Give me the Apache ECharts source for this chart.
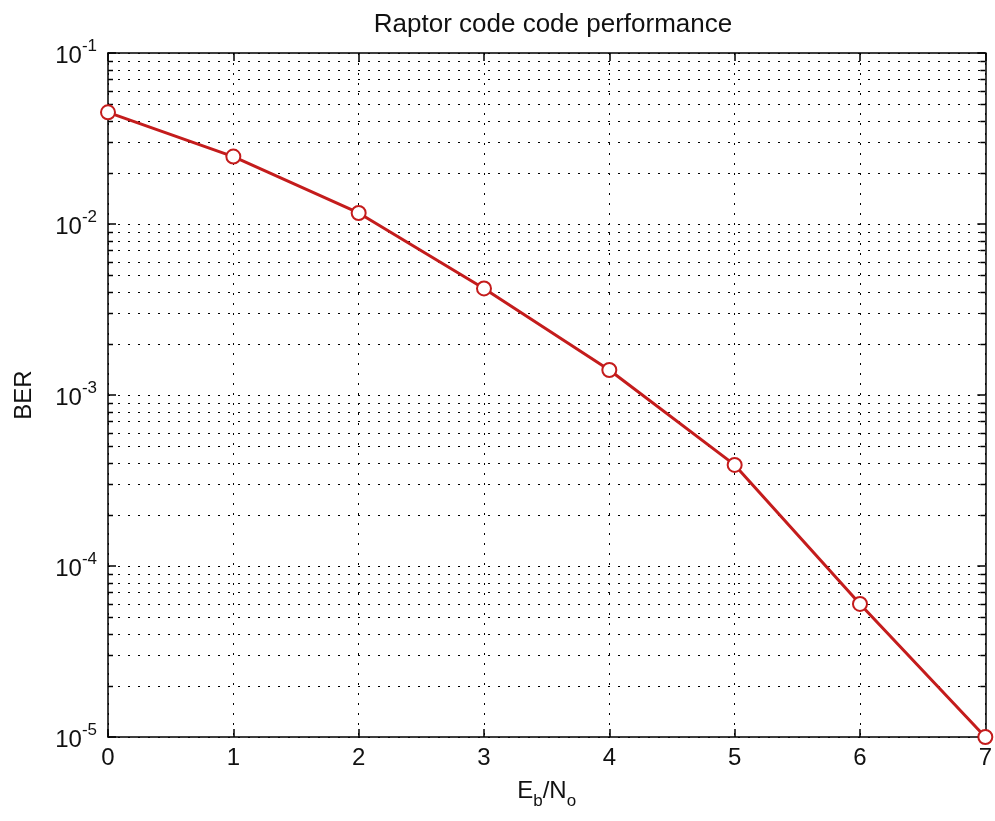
<!DOCTYPE html>
<html><head><meta charset="utf-8">
<script src="https://cdn.jsdelivr.net/npm/echarts@6/dist/echarts.min.js"></script>
<style>html,body{margin:0;padding:0;background:#fff}#c{width:995px;height:821px}</style>
</head><body><div id="c"></div>
<script>
const ebno = [0, 1, 2, 3, 4, 5, 6, 7];
const ber = [0.045, 0.0248, 0.0116, 0.0042, 0.0014, 0.00039, 0.00006, 0.00001];
const yDecades = [1e-5, 1e-4, 1e-3, 1e-2, 1e-1];
const minorMult = [2, 3, 4, 5, 6, 7, 8, 9];
const titleText = 'Raptor code code performance';

const minorVals = [];
for (let i = 0; i < yDecades.length - 1; i++) {
  for (const m of minorMult) minorVals.push([0, m * yDecades[i]]);
}
const FONT = 'Liberation Sans, Arial, sans-serif';
const FS = 24;
const DOT = [2, 8];

const chart = echarts.init(document.getElementById('c'), null, {renderer: 'canvas'});
chart.setOption({
  animation: false,
  backgroundColor: '#fff',
  title: {
    text: titleText, left: 548, textAlign: 'center', top: 7,
    textStyle: {fontFamily: FONT, fontSize: 26, fontWeight: 'normal', color: '#111'}
  },
  grid: {left: 108, right: 7, top: 53, bottom: 84, containLabel: false},
  xAxis: [{
    type: 'value', min: 0, max: 7, interval: 1,
    name: '{a|E}{s|b}{a|/N}{s|o}', nameLocation: 'middle', nameGap: 42,
    nameTextStyle: {
      rich: {
        a: {fontFamily: FONT, fontSize: FS, color: '#111', verticalAlign: 'bottom', padding: [0, 0, 7, 0]},
        s: {fontFamily: FONT, fontSize: 17, color: '#111', verticalAlign: 'bottom'}
      }
    },
    axisLine: {show: true, onZero: false, lineStyle: {color: '#000', width: 1.5}},
    axisTick: {show: true, inside: true, length: 8, lineStyle: {color: '#000', width: 1.5}},
    axisLabel: {fontFamily: FONT, fontSize: FS, color: '#111', margin: 9},
    splitLine: {show: true, lineStyle: {color: '#000', width: 1, type: DOT}}
  }, {
    type: 'value', min: 0, max: 7, interval: 1, position: 'top',
    axisLine: {show: true, onZero: false, lineStyle: {color: '#000', width: 1.5}},
    axisTick: {show: true, inside: true, length: 8, lineStyle: {color: '#000', width: 1.5}},
    axisLabel: {show: false}, splitLine: {show: false}
  }],
  yAxis: [{
    type: 'log', logBase: 10, min: 1e-5, max: 1e-1,
    name: 'BER', nameLocation: 'middle', nameGap: 72, nameRotate: 90,
    nameTextStyle: {fontFamily: FONT, fontSize: FS, color: '#111'},
    axisLine: {show: true, onZero: false, lineStyle: {color: '#000', width: 1.5}},
    axisTick: {show: true, inside: true, length: 8, lineStyle: {color: '#000', width: 1.5}},
    axisLabel: {
      margin: 11,
      formatter: v => '{a|10}{b|' + Math.round(Math.log10(v)) + '}',
      rich: {
        a: {fontFamily: FONT, fontSize: FS, color: '#111', verticalAlign: 'bottom'},
        b: {fontFamily: FONT, fontSize: 17, color: '#111', verticalAlign: 'bottom', padding: [0, 0, 14, 0]}
      }
    },
    splitLine: {show: true, lineStyle: {color: '#000', width: 1, type: DOT}}
  }, {
    type: 'log', logBase: 10, min: 1e-5, max: 1e-1, position: 'right',
    axisLine: {show: true, onZero: false, lineStyle: {color: '#000', width: 1.5}},
    axisTick: {show: true, inside: true, length: 8, lineStyle: {color: '#000', width: 1.5}},
    axisLabel: {show: false}, splitLine: {show: false}
  }],
  series: [{
    type: 'custom', silent: true, z: 1,
    xAxisIndex: 0, yAxisIndex: 0,
    data: minorVals,
    renderItem: function (params, api) {
      const cs = params.coordSys;
      const y = Math.round(api.coord([0, api.value(1)])[1]) + 0.5;
      return {type: 'group', children: [
        {type: 'line', shape: {x1: cs.x, y1: y, x2: cs.x + cs.width, y2: y},
          style: {stroke: '#000', lineWidth: 1, lineDash: DOT}},
        {type: 'line', shape: {x1: cs.x, y1: y, x2: cs.x + 5, y2: y},
          style: {stroke: '#000', lineWidth: 1.5}},
        {type: 'line', shape: {x1: cs.x + cs.width - 5, y1: y, x2: cs.x + cs.width, y2: y},
          style: {stroke: '#000', lineWidth: 1.5}}
      ]};
    }
  }, {
    type: 'line', z: 5,
    xAxisIndex: 0, yAxisIndex: 0,
    data: ebno.map((x, i) => [x, ber[i]]),
    symbol: 'emptyCircle', symbolSize: 14,
    lineStyle: {color: '#c41c1c', width: 3},
    itemStyle: {color: '#c41c1c', borderColor: '#c41c1c', borderWidth: 2.5},
    clip: false
  }]
});
</script></body></html>
